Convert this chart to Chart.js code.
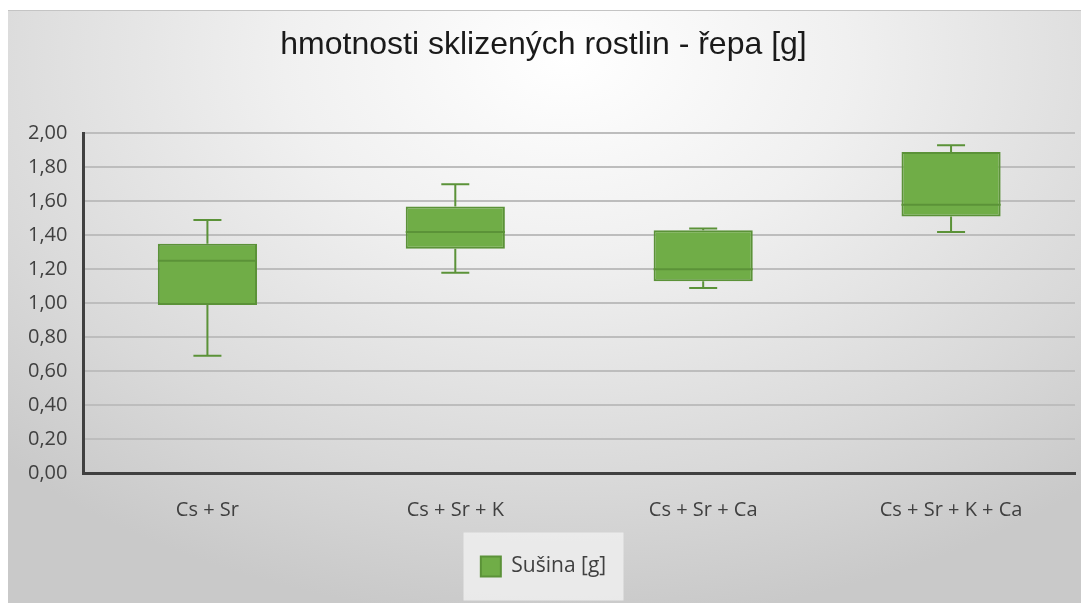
<!DOCTYPE html>
<html>
<head>
<meta charset="utf-8">
<script src="https://cdn.jsdelivr.net/npm/chart.js@4"></script>
<style>
  html, body { margin: 0; padding: 0; background: #fff; }
  #panel {
    position: absolute; left: 8px; top: 10px; width: 1073px; height: 593px;
    border-top: 1px solid #c4c4c4;
    background: radial-gradient(ellipse 75% 95% at 52% 8%, #ffffff 0%, #f0f0f0 35%, #d9d9d9 75%, #c9c9c9 100%);
  }
  #wrap { position: absolute; left: 0; top: 0; width: 1073px; height: 592px; }
</style>
</head>
<body>
<div id="panel"><div id="wrap"><canvas id="chart"></canvas></div></div>
<script>
// chart values
let categories = ['Cs + Sr', 'Cs + Sr + K', 'Cs + Sr + Ca', 'Cs + Sr + K + Ca'];
let minValues = [0.69, 1.18, 1.09, 1.42];
let q1Values = [0.99, 1.32, 1.13, 1.51];
let medianValues = [1.25, 1.42, 1.20, 1.58];
let q3Values = [1.35, 1.57, 1.43, 1.89];
let maxValues = [1.49, 1.70, 1.44, 1.93];
let yTicks = [0, 0.2, 0.4, 0.6, 0.8, 1.0, 1.2, 1.4, 1.6, 1.8, 2.0];

let fillGreen = '#70ad47';
let lineGreen = '#5b9238';
let tickFont = '"Open Sans", "Noto Sans", sans-serif';

// box bodies as floating bars from q1 to q3
let boxData = categories.map((c, i) => [q1Values[i], q3Values[i]]);

// whiskers, caps and median lines, positioned with the chart's scales
const whiskerPlugin = {
	id: 'whiskers',
	afterDatasetsDraw(chart){
		let ctx = chart.ctx;
		let y = chart.scales.y;
		let meta = chart.getDatasetMeta(0);
		ctx.save();
		ctx.strokeStyle = lineGreen;
		ctx.lineWidth = 2;
		meta.data.forEach((bar, i) => {
			let x = bar.x;
			let half = bar.width / 2;
			let capHalf = 14;
			let yMin = y.getPixelForValue(minValues[i]);
			let yQ1 = y.getPixelForValue(q1Values[i]);
			let yQ3 = y.getPixelForValue(q3Values[i]);
			let yMax = y.getPixelForValue(maxValues[i]);
			let yMed = y.getPixelForValue(medianValues[i]);
			ctx.beginPath();
			ctx.moveTo(x, yQ1); ctx.lineTo(x, yMin);
			ctx.moveTo(x - capHalf, yMin); ctx.lineTo(x + capHalf, yMin);
			ctx.moveTo(x, yQ3); ctx.lineTo(x, yMax);
			ctx.moveTo(x - capHalf, yMax); ctx.lineTo(x + capHalf, yMax);
			ctx.moveTo(x - half, yMed); ctx.lineTo(x + half, yMed);
			ctx.stroke();
		});
		ctx.restore();
	}
};

// light box behind the legend, centred on the legend item
const legendBoxPlugin = {
	id: 'legendBox',
	beforeDraw(chart){
		let lg = chart.legend;
		if(!lg || !lg.legendHitBoxes || !lg.legendHitBoxes.length) return;
		let hb = lg.legendHitBoxes[0];
		let cx = hb.left + hb.width / 2;
		let cy = hb.top + hb.height / 2;
		let ctx = chart.ctx;
		ctx.save();
		ctx.fillStyle = 'rgba(238,238,238,0.85)';
		ctx.fillRect(cx - 80, cy - 34, 160, 68);
		ctx.restore();
	}
};

let ctx = document.getElementById('chart').getContext('2d');
let chart = new Chart(ctx, {
	type: 'bar',
	data: {
		labels: categories,
		datasets: [{
			label: 'Sušina [g]',
			data: boxData,
			backgroundColor: fillGreen,
			borderColor: lineGreen,
			borderWidth: 2,
			borderSkipped: false,
			barPercentage: 0.4,
			categoryPercentage: 1.0
		}]
	},
	options: {
		responsive: true,
		maintainAspectRatio: false,
		animation: false,
		layout: { padding: { left: 4, right: 6, top: 14, bottom: 16 } },
		plugins: {
			title: {
				display: true,
				text: 'hmotnosti sklizených rostlin - řepa [g]',
				color: '#1a1a1a',
				font: { family: '"Liberation Sans", Arial', size: 32, weight: 'normal' },
				padding: { top: 1, bottom: 69 }
			},
			legend: {
				position: 'bottom',
				labels: {
					color: '#404040',
					font: { family: tickFont, size: 21 },
					boxWidth: 20,
					boxHeight: 20,
					padding: 17
				}
			},
			tooltip: { enabled: false }
		},
		scales: {
			x: {
				grid: { display: false },
				border: { display: true, color: '#404040', width: 3 },
				ticks: {
					color: '#404040',
					padding: 17,
					font: { family: tickFont, size: 20 }
				}
			},
			y: {
				min: 0,
				max: 2,
				afterBuildTicks(axis){ axis.ticks = yTicks.map(v => ({ value: v })); },
				grid: { color: '#bdbdbd', lineWidth: 2, drawTicks: false },
				border: { display: true, color: '#404040', width: 3 },
				ticks: {
					color: '#404040',
					padding: 16,
					font: { family: tickFont, size: 20 },
					callback: v => Number(v).toFixed(2).replace('.', ',')
				}
			}
		}
	},
	plugins: [whiskerPlugin, legendBoxPlugin]
});
</script>
</body>
</html>
